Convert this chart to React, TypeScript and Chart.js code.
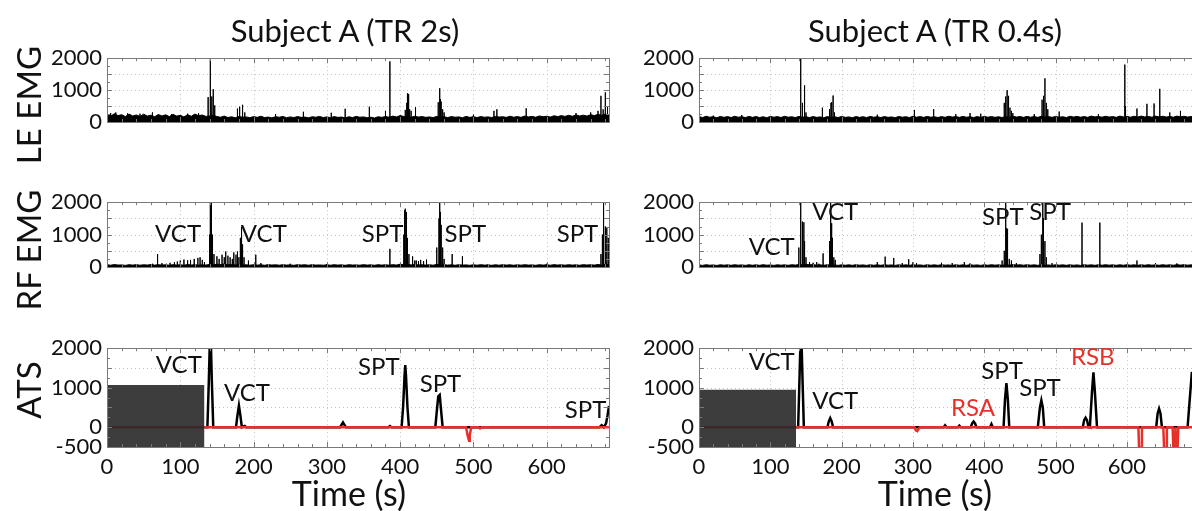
import React, { useEffect, useRef } from "react";
import { Chart, registerables } from "chart.js";
Chart.register(...registerables);

// ---------- data ----------
const timeTicks = [0, 100, 200, 300, 400, 500, 600];
const emgTicks = [0, 1000, 2000];
const atsTicks = [-500, 0, 1000, 2000];
const gridTimes = [100, 200, 300, 400, 500, 600];
const gridValues = [500, 1000, 1500];
const baseStep = 5; // seconds between envelope samples

// EMG envelope (upper edge of the dense noise band), one value per 5 s
const leBase2s = [
  240, 180, 260, 200, 230, 170, 250, 190, 220, 175, 245, 185, 215, 165, 235, 190, 225, 170, 240, 185, 210, 160, 230, 180, 250, 195, 220, 175,
  190, 210, 170, 150, 185, 140, 165, 130, 175, 150, 160, 135, 170, 145, 180, 140, 155, 130, 165, 150, 175, 135, 160, 140, 170, 145, 155, 130, 165, 150, 175, 140,
  160, 135, 170, 145, 155, 130, 165, 140, 175, 150, 160, 135, 150, 125, 165, 145, 170, 150, 185, 160, 200, 175, 165, 150, 180, 155, 170, 145, 160, 140, 175, 150,
  165, 140, 170, 150, 160, 135, 175, 145, 165, 140, 170, 150, 160, 140, 175, 155, 165, 145, 180, 150, 170, 145, 185, 160, 175, 150, 190, 165, 180, 155, 195, 170,
  200, 175, 210, 180, 220, 190, 215, 185, 230, 200, 240, 210, 250, 220,
];
const rfBase2s = [
  70, 55, 75, 60, 65, 50, 70, 58, 72, 55, 68, 60, 75, 58, 70, 62, 66, 55, 72, 60, 68, 55, 74, 62, 70, 58, 66, 60,
  80, 70, 85, 75, 90, 70, 80, 65, 72, 60, 68, 55, 70, 58, 66, 54, 72, 60, 68, 56, 70, 58, 65, 52, 72, 60, 68, 55, 70, 58, 64, 55,
  68, 55, 70, 58, 66, 52, 70, 60, 65, 55, 72, 58, 66, 54, 70, 58, 68, 56, 72, 60, 85, 70, 80, 65, 75, 62, 70, 58, 68, 55, 80, 65,
  70, 58, 66, 54, 70, 58, 65, 52, 68, 56, 70, 58, 64, 52, 68, 55, 70, 58, 66, 54, 68, 56, 70, 58, 65, 52, 70, 58, 68, 55, 72, 60,
  68, 55, 70, 58, 66, 54, 72, 60, 70, 58, 75, 62, 85, 70,
];
const leBase04 = [
  170, 140, 180, 150, 165, 135, 175, 145, 170, 140, 180, 150, 165, 140, 175, 145, 170, 140, 165, 135, 175, 150, 170, 140, 180, 150, 165, 140,
  175, 150, 165, 140, 170, 145, 160, 135, 170, 140, 165, 140, 175, 145, 160, 135, 170, 145, 165, 140, 175, 150, 165, 140, 170, 145, 160, 135, 175, 150, 165, 140,
  180, 150, 170, 145, 175, 150, 165, 140, 170, 145, 180, 155, 170, 145, 175, 150, 165, 140, 170, 145, 175, 150, 170, 145, 165, 140, 175, 150, 180, 155, 170, 145,
  175, 150, 170, 145, 180, 155, 170, 145, 175, 150, 165, 140, 180, 155, 175, 150, 170, 145, 185, 160, 175, 150, 180, 155, 170, 145, 185, 160, 175, 150, 180, 155,
  185, 160, 175, 150, 185, 160, 180, 155, 175, 150, 185, 160, 180, 155, 170, 185, 160,
];
const rfBase04 = [
  65, 50, 70, 55, 62, 48, 68, 55, 66, 52, 70, 56, 64, 50, 68, 54, 66, 52, 70, 56, 62, 50, 68, 55, 66, 52, 70, 58,
  75, 62, 80, 68, 72, 58, 66, 52, 70, 56, 64, 50, 68, 54, 66, 52, 70, 56, 64, 50, 68, 54, 66, 52, 70, 56, 64, 50, 68, 55, 66, 52,
  70, 56, 64, 50, 68, 54, 66, 52, 70, 56, 64, 50, 68, 54, 66, 52, 70, 56, 64, 50, 68, 54, 70, 56, 66, 52, 70, 56, 75, 60, 68, 55,
  70, 56, 66, 52, 68, 54, 64, 50, 70, 56, 66, 52, 68, 54, 64, 50, 70, 56, 66, 52, 68, 54, 70, 56, 66, 52, 68, 54, 70, 56, 66, 52,
  68, 54, 70, 56, 66, 52, 70, 56, 68, 54, 72, 58, 70, 56, 66, 54, 70,
];

// EMG spikes: [time s, amplitude]
const leSpikes2s = [
  [5, 280], [12, 300], [28, 270], [45, 260], [62, 300], [88, 250], [110, 260], [125, 270], [138, 780], [141, 2000], [143, 800], [145, 1030], [147, 520],
  [178, 420], [181, 480], [185, 540], [188, 300], [230, 250], [268, 320], [306, 290], [325, 415], [358, 480], [380, 350], [386, 1900],
  [407, 380], [409, 600], [410, 900], [411, 880], [412, 560], [413, 400], [415, 350], [421, 460], [452, 620], [454, 1060], [455, 720], [456, 640],
  [458, 400], [460, 300], [500, 230], [528, 350], [532, 400], [572, 430], [640, 280], [660, 300], [670, 350], [674, 820], [677, 400], [680, 930], [683, 500],
];
const rfSpikes2s = [
  [62, 100], [69, 400], [75, 120], [81, 100], [86, 130], [92, 150], [96, 170], [100, 200], [105, 230], [110, 210], [114, 220], [119, 250], [124, 280],
  [127, 300], [130, 220], [133, 150], [140, 1000], [141, 2000], [142, 1900], [143, 2000], [144, 1000], [146, 400], [150, 330], [153, 250], [157, 380],
  [160, 300], [162, 480], [165, 350], [168, 300], [171, 250], [173, 450], [176, 380], [178, 480], [180, 300], [182, 900], [183, 1240], [184, 1100],
  [185, 700], [187, 300], [193, 200], [203, 380], [210, 120], [250, 100], [300, 90], [386, 560], [405, 1000], [406, 1750], [407, 1800], [408, 1700],
  [409, 1500], [410, 900], [412, 400], [417, 330], [420, 200], [422, 200], [425, 180], [428, 220], [432, 180], [436, 230], [450, 600], [453, 1500],
  [454, 2000], [455, 1700], [456, 1300], [458, 600], [460, 250], [471, 400], [485, 330], [520, 90], [600, 100], [674, 400], [676, 1000], [677, 2000],
  [678, 1800], [680, 1250], [682, 1200], [684, 900],
];
const leSpikes04 = [
  [20, 200], [60, 220], [142, 500], [143, 2000], [145, 600], [148, 1150], [150, 300], [173, 450], [183, 400], [185, 600], [186, 620], [188, 830],
  [190, 300], [250, 230], [302, 380], [329, 400], [360, 250], [380, 280], [395, 260], [428, 600], [430, 800], [432, 1000], [434, 820], [436, 450],
  [438, 350], [440, 280], [470, 250], [481, 700], [483, 820], [485, 1370], [487, 600], [489, 400], [505, 330], [560, 250], [597, 1800], [598, 500],
  [614, 420], [628, 570], [638, 580], [646, 1040], [660, 300], [675, 350],
];
const rfSpikes04 = [
  [140, 600], [142, 1000], [143, 2000], [145, 1400], [147, 1380], [148, 800], [150, 300], [155, 150], [160, 130], [165, 150], [168, 100], [174, 420],
  [183, 800], [184, 2000], [185, 2000], [186, 1350], [187, 900], [189, 300], [191, 220], [250, 150], [261, 320], [273, 280], [285, 120], [294, 240],
  [300, 150], [305, 120], [340, 130], [355, 120], [372, 150], [380, 110], [425, 200], [428, 500], [430, 2000], [431, 1200], [432, 1180], [433, 900],
  [435, 250], [438, 200], [445, 120], [478, 400], [480, 1000], [482, 2000], [483, 1500], [485, 800], [487, 300], [495, 120], [537, 1370], [562, 1370],
  [614, 200], [640, 120], [670, 110],
];

// ATS traces: [time s, value]
const atsPos2s = [
  [133, 0], [137, 0], [139, 1200], [141, 2700], [143, 1200], [145, 0], [176, 0], [178, 300], [180, 550], [182, 300], [184, 0], [188, 30], [190, 0],
  [318, 0], [320, 60], [322, 120], [324, 60], [326, 0], [384, 0], [386, 30], [388, 0], [402, 0], [404, 500], [406, 1300], [407, 1575], [408, 1300],
  [410, 500], [412, 0], [448, 0], [450, 400], [452, 780], [454, 815], [456, 400], [458, 0], [672, 0], [675, 50], [678, 0], [681, 100], [683, 300], [685, 540],
];
const atsNeg2s = [
  [0, 0], [490, 0], [492, -200], [494, -345], [495, -200], [497, 0], [507, 0], [509, -30], [511, 0], [685, 0],
];
const atsPos04 = [
  [135, 0], [139, 0], [141, 1300], [143, 2700], [145, 1300], [147, 0], [180, 0], [182, 150], [184, 230], [186, 150], [188, 0], [343, 0], [345, 50],
  [347, 0], [363, 0], [365, 40], [367, 0], [381, 0], [383, 100], [385, 145], [387, 100], [389, 0], [408, 0], [410, 80], [412, 0], [427, 0], [429, 700],
  [431, 1115], [433, 700], [435, 0], [475, 0], [478, 500], [480, 680], [482, 500], [484, 0], [538, 0], [540, 180], [542, 240], [544, 180], [546, 0],
  [548, 0], [551, 900], [553, 1390], [555, 900], [558, 0], [641, 0], [643, 350], [645, 470], [647, 350], [649, 0], [685, 0], [688, 700], [691, 1400],
];
const atsNeg04 = [
  [0, 0], [302, 0], [304, -80], [306, -100], [308, -40], [310, 0], [548, 0], [550, -20], [552, 0], [616, 0], [617, -520], [620, -520], [621, 0],
  [651, 0], [652, -520], [655, -520], [656, 0], [664, 0], [665, -520], [667, -520], [668, 0], [669, -520], [671, -520], [672, 0], [701, 0],
];

// baseline (pre-task) blocks: [start s, end s, top value]
const block2s = [0, 133, 1070];
const block04 = [0, 136, 950];

// annotations: [text, time s, value, red?]
const rfNotes2s = [["VCT", 97, 1000], ["VCT", 214, 1000], ["SPT", 376, 1000], ["SPT", 489, 1000], ["SPT", 642, 1000]];
const atsNotes2s = [["VCT", 98, 1560], ["VCT", 191, 860], ["SPT", 371, 1520], ["SPT", 455, 1100], ["SPT", 653, 430]];
const rfNotes04 = [["VCT", 102, 600], ["VCT", 191, 1680], ["SPT", 426, 1545], ["SPT", 492, 1680]];
const atsNotes04 = [["VCT", 102, 1650], ["VCT", 191, 650], ["RSA", 384, 475, 1], ["SPT", 425, 1425], ["SPT", 478, 975], ["RSB", 552, 1775, 1]];

const xMaxLeft = 685;
const xMaxRight = 701;

// ---------- styling ----------
const FONT = "Lato, 'Open Sans', sans-serif";
const RED = "#e8302a";
const INK = "#111";

const toPts = (arr: number[][]) => arr.map(([x, y]) => ({ x, y }));
const envPts = (vals: number[]) => vals.map((v, i) => ({ x: i * baseStep, y: v }));
const spikePts = (arr: number[][]) => arr.flatMap(([t, v]) => [{ x: t, y: 0 }, { x: t, y: v }, { x: t, y: 0 }]);

function emgDatasets(base: number[], spikes: number[][]) {
  return [
    { data: spikePts(spikes), borderColor: "#000", borderWidth: 1, pointRadius: 0, fill: false, order: 1 },
    { data: envPts(base), borderColor: "#000", backgroundColor: "#000", borderWidth: 1, pointRadius: 0, fill: "origin", order: 2 },
  ];
}
function atsDatasets(pos: number[][], neg: number[][], block: number[]) {
  return [
    {
      data: [{ x: block[0], y: block[2] }, { x: block[1], y: block[2] }],
      borderColor: "rgba(0,0,0,0)", backgroundColor: "rgba(40,40,40,0.9)", borderWidth: 0, pointRadius: 0, fill: "start", order: 0,
    },
    { data: toPts(neg), borderColor: RED, borderWidth: 2.5, pointRadius: 0, fill: false, order: 1 },
    { data: toPts(pos), borderColor: "#000", borderWidth: 2.5, pointRadius: 0, fill: false, order: 2 },
  ];
}

type Panel = {
  left: number; top: number; width: number; height: number;
  yw: number; padR: number; padT: number; padB: number;
  xMax: number; yMin: number; yMax: number; yTicks: number[];
  showX: boolean; datasets: any[]; notes: any[];
};

function decoPlugin(p: Panel) {
  return {
    id: "deco",
    beforeDatasetsDraw(chart: any) {
      const { ctx, chartArea: a, scales } = chart;
      const x = scales.x, y = scales.y;
      ctx.save();
      ctx.strokeStyle = "#c2c2c2";
      ctx.lineWidth = 1;
      ctx.setLineDash([1, 3]);
      ctx.beginPath();
      for (const t of gridTimes) {
        const px = Math.round(x.getPixelForValue(t)) + 0.5;
        ctx.moveTo(px, a.top); ctx.lineTo(px, a.bottom);
      }
      for (const v of gridValues) {
        const py = Math.round(y.getPixelForValue(v)) + 0.5;
        ctx.moveTo(a.left, py); ctx.lineTo(a.right, py);
      }
      ctx.stroke();
      ctx.restore();
    },
    afterDatasetsDraw(chart: any) {
      const { ctx, chartArea: a, scales } = chart;
      const x = scales.x, y = scales.y;
      ctx.save();
      ctx.strokeStyle = "#7a7a7a";
      ctx.lineWidth = 1;
      ctx.beginPath();
      for (let t = 0; t <= p.xMax; t += 20) {
        const px = Math.round(x.getPixelForValue(t)) + 0.5;
        const len = t % 100 === 0 ? 5 : 3;
        ctx.moveTo(px, a.bottom); ctx.lineTo(px, a.bottom - len);
        ctx.moveTo(px, a.top); ctx.lineTo(px, a.top + len);
      }
      for (let v = p.yMin; v <= p.yMax; v += 250) {
        const py = Math.round(y.getPixelForValue(v)) + 0.5;
        const len = v % 500 === 0 ? 5 : 3;
        ctx.moveTo(a.left, py); ctx.lineTo(a.left + len, py);
        ctx.moveTo(a.right, py); ctx.lineTo(a.right - len, py);
      }
      ctx.stroke();
      ctx.strokeRect(Math.round(a.left) + 0.5, Math.round(a.top) + 0.5, Math.round(a.right - a.left), Math.round(a.bottom - a.top));
      ctx.font = `24px ${FONT}`;
      ctx.textAlign = "center";
      ctx.textBaseline = "middle";
      for (const n of p.notes) {
        ctx.fillStyle = n[3] ? RED : INK;
        ctx.fillText(n[0], x.getPixelForValue(n[1]), y.getPixelForValue(n[2]));
      }
      ctx.restore();
    },
  };
}

function makeChart(canvas: HTMLCanvasElement, p: Panel) {
  return new Chart(canvas, {
    type: "line",
    data: { datasets: p.datasets },
    options: {
      animation: false,
      responsive: false,
      devicePixelRatio: 1,
      events: [],
      layout: { padding: { left: 0, right: p.padR, top: p.padT, bottom: p.padB } },
      plugins: { legend: { display: false }, tooltip: { enabled: false } },
      scales: {
        x: {
          type: "linear",
          min: 0,
          max: p.xMax,
          display: p.showX,
          grid: { display: false, drawTicks: false },
          border: { display: false },
          ticks: { font: { size: 22, family: FONT }, color: INK, padding: 7, maxRotation: 0, autoSkip: false, callback: (v: any) => String(v) },
          afterBuildTicks: (s: any) => { s.ticks = timeTicks.map((v) => ({ value: v })); },
          afterFit: (s: any) => { s.height = 34; },
        },
        y: {
          type: "linear",
          min: p.yMin,
          max: p.yMax,
          grid: { display: false, drawTicks: false },
          border: { display: false },
          ticks: { font: { size: 22, family: FONT }, color: INK, padding: 5, callback: (v: any) => String(v) },
          afterBuildTicks: (s: any) => { s.ticks = p.yTicks.map((v) => ({ value: v })); },
          afterFit: (s: any) => { s.width = p.yw; },
        },
      },
    } as any,
    plugins: [decoPlugin(p)],
  });
}

const L = { left: 0, width: 620, yw: 107, padR: 11, xMax: xMaxLeft };
const R = { left: 600, width: 600, yw: 99, padR: 1, xMax: xMaxRight };

const panels: Panel[] = [
  { ...L, top: 40, height: 130, padT: 14, padB: 14, yMin: 0, yMax: 2000, yTicks: emgTicks, showX: false, datasets: emgDatasets(leBase2s, leSpikes2s), notes: [] },
  { ...L, top: 184, height: 130, padT: 14, padB: 13, yMin: 0, yMax: 2000, yTicks: emgTicks, showX: false, datasets: emgDatasets(rfBase2s, rfSpikes2s), notes: rfNotes2s },
  { ...L, top: 330, height: 151, padT: 14, padB: 0, yMin: -500, yMax: 2000, yTicks: atsTicks, showX: true, datasets: atsDatasets(atsPos2s, atsNeg2s, block2s), notes: atsNotes2s },
  { ...R, top: 40, height: 130, padT: 14, padB: 14, yMin: 0, yMax: 2000, yTicks: emgTicks, showX: false, datasets: emgDatasets(leBase04, leSpikes04), notes: [] },
  { ...R, top: 184, height: 130, padT: 14, padB: 13, yMin: 0, yMax: 2000, yTicks: emgTicks, showX: false, datasets: emgDatasets(rfBase04, rfSpikes04), notes: rfNotes04 },
  { ...R, top: 330, height: 151, padT: 14, padB: 0, yMin: -500, yMax: 2000, yTicks: atsTicks, showX: true, datasets: atsDatasets(atsPos04, atsNeg04, block04), notes: atsNotes04 },
];

const texts: { t: string; x: number; y: number; size: number; rot?: boolean }[] = [
  { t: "Subject A (TR 2s)", x: 345, y: 30, size: 31 },
  { t: "Subject A (TR 0.4s)", x: 935, y: 30, size: 31 },
  { t: "LE EMG", x: 28, y: 105, size: 33, rot: true },
  { t: "RF EMG", x: 28, y: 250, size: 33, rot: true },
  { t: "ATS", x: 28, y: 390, size: 33, rot: true },
  { t: "Time (s)", x: 349, y: 493, size: 34 },
  { t: "Time (s)", x: 935, y: 493, size: 34 },
];

export default function App() {
  const refs = useRef<(HTMLCanvasElement | null)[]>([]);
  useEffect(() => {
    const charts = panels.map((p, i) => makeChart(refs.current[i] as HTMLCanvasElement, p));
    return () => charts.forEach((c) => c.destroy());
  }, []);
  return (
    <div style={{ position: "fixed", left: 0, top: 0, width: 1192, height: 511, overflow: "hidden", background: "#fff", fontFamily: FONT, color: INK }}>
      {panels.map((p, i) => (
        <canvas
          key={i}
          ref={(el) => { refs.current[i] = el; }}
          width={p.width}
          height={p.height}
          style={{ position: "absolute", left: p.left, top: p.top, width: p.width, height: p.height }}
        />
      ))}
      {texts.map((t, i) => (
        <div
          key={"t" + i}
          style={{
            position: "absolute", left: t.x, top: t.y, fontSize: t.size, lineHeight: 1, whiteSpace: "nowrap",
            transform: `translate(-50%, -50%)${t.rot ? " rotate(-90deg)" : ""}`,
          }}
        >
          {t.t}
        </div>
      ))}
    </div>
  );
}
